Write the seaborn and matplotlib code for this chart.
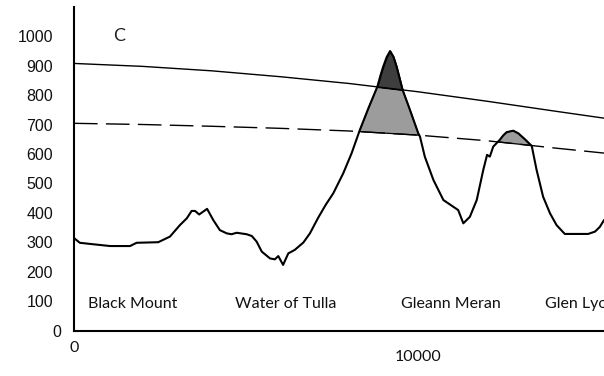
import numpy as np
import pandas as pd
import matplotlib
matplotlib.use("Agg")
import matplotlib.pyplot as plt
import seaborn as sns

# Ground profile along the section (distance in m, elevation in m)
dist = [0, 170, 560, 1050, 1630, 1820, 2450, 2790, 3080, 3280, 3420, 3520,
        3640, 3870, 4050, 4240, 4440, 4580, 4730, 5020, 5170, 5310, 5460,
        5700, 5840, 5940, 6080, 6230, 6420, 6670, 6860, 7100, 7320, 7540,
        7830, 8070, 8310, 8560, 8820, 8910, 8990, 9090, 9190, 9290, 9380,
        9460, 9550, 9770, 10010, 10060, 10200, 10450, 10740, 11030, 11170,
        11320, 11510, 11710, 11900, 12010, 12090, 12190, 12380, 12480, 12580,
        12770, 12920, 13110, 13310, 13450, 13640, 13840, 14030, 14270, 14950,
        15150, 15290, 15410]
elev = [315, 299, 294, 288, 288, 299, 301, 320, 359, 382, 407, 407,
        395, 414, 376, 342, 331, 328, 333, 328, 322, 303, 269,
        246, 243, 254, 224, 263, 275, 300, 331, 384, 428, 467,
        535, 602, 681, 755, 828, 866, 896, 928, 949, 929, 896,
        860, 819, 749, 670, 659, 591, 512, 444, 421, 410,
        365, 387, 444, 546, 597, 591, 625, 648, 663, 674,
        679, 670, 650, 627, 546, 455, 399, 359, 329, 329,
        337, 353, 376]

# Upper (solid) and lower (dashed) surfaces
surf_x = [0, 2000, 4000, 6000, 8000, 10000, 12000, 14000, 15500]
surf_upper = [907, 897, 882, 862, 839, 811, 779, 745, 720]
surf_lower = [704, 700, 694, 687, 678, 664, 645, 620, 602]

place_names = ["Black Mount", "Water of Tulla", "Gleann Meran", "Glen Lyon"]
place_x = [407, 4680, 9506, 13690]

y_ticks = [0, 100, 200, 300, 400, 500, 600, 700, 800, 900, 1000]
x_ticks = [0, 10000]

sns.set_theme(style="white")
plt.rcParams["font.family"] = ["Liberation Sans", "DejaVu Sans"]

fig = plt.figure(figsize=(6.04, 3.76), dpi=100)
ax = fig.add_axes([0.1225, 0.1197, 0.8775, 0.863])

profile = pd.DataFrame({"dist": dist, "elev": elev})
upper = pd.DataFrame({"dist": surf_x, "elev": surf_upper})
lower = pd.DataFrame({"dist": surf_x, "elev": surf_lower})

# Shaded parts of the ground rising above each surface
xf = np.linspace(0, dist[-1], 4000)
tf = np.interp(xf, dist, elev)
uf = np.interp(xf, surf_x, surf_upper)
lf = np.interp(xf, surf_x, surf_lower)
ax.fill_between(xf, lf, np.minimum(tf, uf), where=tf > lf, interpolate=True,
                facecolor="#9c9c9c", edgecolor="black", linewidth=0.9, zorder=1)
ax.fill_between(xf, uf, tf, where=tf > uf, interpolate=True,
                facecolor="#3e3e3e", edgecolor="black", linewidth=0.9, zorder=1)

sns.lineplot(data=upper, x="dist", y="elev", ax=ax, color="black", lw=1.0, zorder=3)
sns.lineplot(data=lower, x="dist", y="elev", ax=ax, color="black", lw=1.0, zorder=3)
ax.lines[-1].set_dashes((17, 6))
sns.lineplot(data=profile, x="dist", y="elev", ax=ax, color="black", lw=1.5, zorder=4)

ax.set_xlim(0, 15410)
ax.set_ylim(0, 1100)
ax.set_xlabel("")
ax.set_ylabel("")

for side in ["top", "right"]:
    ax.spines[side].set_visible(False)
for side in ["left", "bottom"]:
    ax.spines[side].set_color("black")
    ax.spines[side].set_linewidth(1.5)

ax.set_yticks(y_ticks)
ax.set_yticklabels([str(v) for v in y_ticks])
ax.tick_params(axis="y", direction="inout", length=14, width=1.1, color="#8a8a8a",
               pad=8, labelsize=11.5, labelcolor="#111111")
ax.yaxis.get_major_ticks()[0].tick1line.set_visible(False)
ax.yaxis.get_major_ticks()[0].set_pad(2)

ax.set_xticks(x_ticks)
ax.set_xticklabels([str(v) for v in x_ticks], fontfamily="Lato")
ax.tick_params(axis="x", direction="inout", length=7, width=1.1, color="black",
               labelsize=11.5, labelcolor="#111111")
xt = ax.xaxis.get_major_ticks()
xt[0].tick1line.set_visible(False)
xt[0].set_pad(3.7)
xt[1].set_pad(10)

for name, px in zip(place_names, place_x):
    ax.text(px, 92, name, ha="left", va="center", fontsize=11.5,
            fontfamily="Lato", color="#111111", zorder=5)

ax.text(1310, 1000, "C", ha="center", va="center", fontsize=13,
        fontfamily="Lato", color="#222222")

fig.savefig("out.png", dpi=100)
